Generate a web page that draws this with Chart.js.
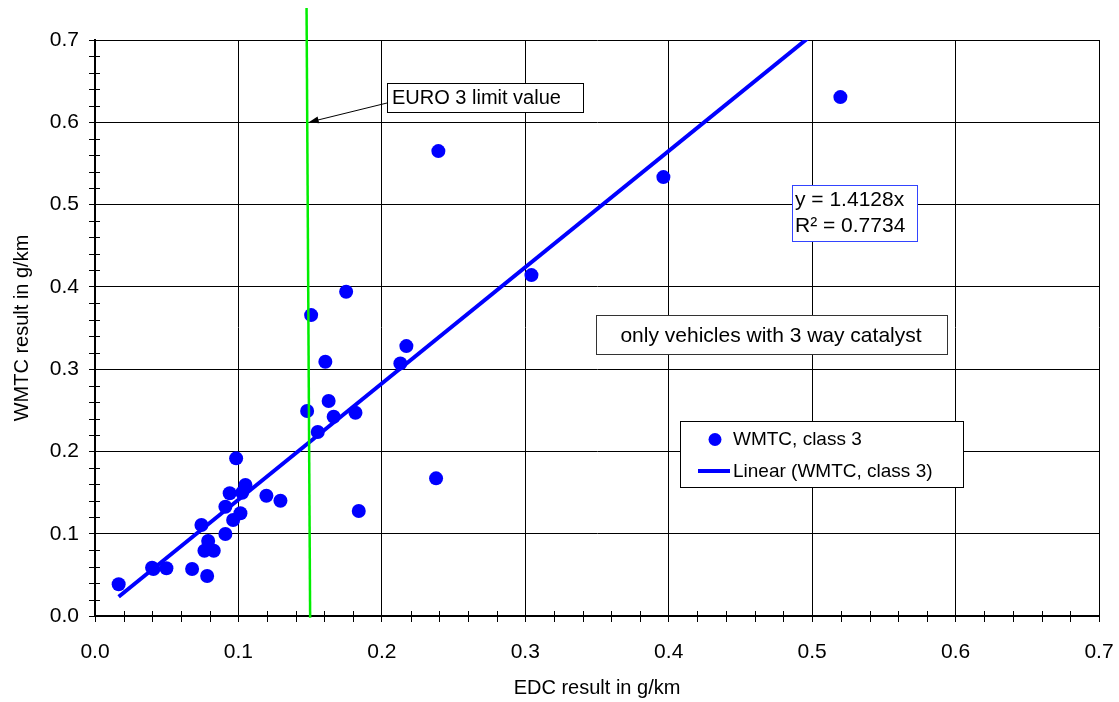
<!DOCTYPE html>
<html>
<head>
<meta charset="utf-8">
<title>WMTC vs EDC results</title>
<script src="https://cdn.jsdelivr.net/npm/chart.js@4.4.0/dist/chart.umd.min.js"></script>
<style>
  html, body { margin: 0; padding: 0; background: #ffffff; }
  canvas { display: block; }
</style>
</head>
<body>
<canvas id="chart" width="1119" height="702"></canvas>
<script>
// Measured results per vehicle (g/km): EDC test (x) and WMTC class 3 test (y)
const edcResults = [
  0.0165, 0.0398, 0.0407, 0.0498, 0.0677, 0.0782, 0.0742, 0.0789, 0.0763,
  0.0828, 0.0909, 0.0909, 0.0939, 0.0984, 0.0963, 0.1014, 0.1049, 0.1026,
  0.1195, 0.1293, 0.1479, 0.1751, 0.1507, 0.1606, 0.2171, 0.2129, 0.1629,
  0.1664, 0.1816, 0.1553, 0.1839, 0.2378, 0.2394, 0.3043, 0.3963, 0.5197
];
const wmtcResults = [
  0.0385, 0.0587, 0.0571, 0.0580, 0.0571, 0.0486, 0.1106, 0.0911, 0.0793,
  0.0793, 0.0996, 0.1328, 0.1491, 0.1916, 0.1166, 0.1248, 0.1592, 0.1498,
  0.1462, 0.1401, 0.2491, 0.3940, 0.3657, 0.3090, 0.3280, 0.3070, 0.2612,
  0.2422, 0.2470, 0.2236, 0.1276, 0.1673, 0.5650, 0.4143, 0.5334, 0.6306
];

// Linear trend through the origin and its fit quality
const trendSlope = 1.4128;
const trendR2 = 0.7734;

// EURO 3 limit marker (hand-drawn line, slightly tilted)
const limitLineX = [0.1475, 0.1500];
const limitLineY = [0.739, -0.002];

// Axis tick values, both axes
const tickValues = [0.0, 0.1, 0.2, 0.3, 0.4, 0.5, 0.6, 0.7];

const seriesName = 'WMTC, class 3';
const trendName = 'Linear (WMTC, class 3)';
const xTitle = 'EDC result in g/km';
const yTitle = 'WMTC result in g/km';
const limitText = 'EURO 3 limit value';
const scopeText = 'only vehicles with 3 way catalyst';

const FONT = '"Liberation Sans", Arial, sans-serif';
const BLUE = '#0000ff';

const points = edcResults.map((x, i) => ({ x, y: wmtcResults[i] }));
const xMinData = Math.min(...edcResults);
const xMaxData = Math.max(...edcResults);
const trendPoints = [
  { x: xMinData, y: trendSlope * xMinData },
  { x: xMaxData, y: trendSlope * xMaxData }
];
const limitPoints = limitLineX.map((x, i) => ({ x, y: limitLineY[i] }));

function crisp(v) { return Math.round(v) + 0.5; }

function textBox(ctx, x, y, w, h, stroke) {
  ctx.save();
  ctx.fillStyle = '#ffffff';
  ctx.fillRect(x, y, w, h);
  ctx.strokeStyle = stroke;
  ctx.lineWidth = 1;
  ctx.strokeRect(crisp(x), crisp(y), Math.round(w), Math.round(h));
  ctx.restore();
}

// Minor ticks every 0.02 crossing both axes
const minorTicks = {
  id: 'minorTicks',
  afterDraw(chart) {
    const { ctx, scales: { x, y } } = chart;
    ctx.save();
    ctx.strokeStyle = '#000000';
    ctx.lineWidth = 1;
    ctx.beginPath();
    for (let i = 0; i <= 35; i++) {
      if (i % 5 === 0) continue;
      const v = i * 0.02;
      const px = crisp(x.getPixelForValue(v));
      ctx.moveTo(px, y.bottom - 5);
      ctx.lineTo(px, y.bottom + 6);
      const py = crisp(y.getPixelForValue(v));
      ctx.moveTo(x.left - 6, py);
      ctx.lineTo(x.left + 5, py);
    }
    ctx.stroke();
    ctx.restore();
  }
};

// Text boxes, arrow and legend drawn inside the plot
const annotations = {
  id: 'annotations',
  afterDraw(chart) {
    const { ctx, scales: { x, y } } = chart;
    ctx.save();

    // EURO 3 label with arrow to the limit line
    textBox(ctx, 387, 83, 196, 29, '#000000');
    ctx.fillStyle = '#000000';
    ctx.font = '20px ' + FONT;
    ctx.textBaseline = 'middle';
    ctx.textAlign = 'left';
    ctx.fillText(limitText, 392, 98);

    const tipX = x.getPixelForValue(0.149);
    const tipY = y.getPixelForValue(0.6);
    const fromX = 387, fromY = 103;
    const ang = Math.atan2(tipY - fromY, tipX - fromX);
    ctx.strokeStyle = '#000000';
    ctx.lineWidth = 1;
    ctx.beginPath();
    ctx.moveTo(fromX, fromY);
    ctx.lineTo(tipX - 8 * Math.cos(ang), tipY - 8 * Math.sin(ang));
    ctx.stroke();
    ctx.beginPath();
    ctx.moveTo(tipX, tipY);
    ctx.lineTo(tipX - 10 * Math.cos(ang) + 3.5 * Math.sin(ang), tipY - 10 * Math.sin(ang) - 3.5 * Math.cos(ang));
    ctx.lineTo(tipX - 10 * Math.cos(ang) - 3.5 * Math.sin(ang), tipY - 10 * Math.sin(ang) + 3.5 * Math.cos(ang));
    ctx.closePath();
    ctx.fill();

    // Trend equation
    textBox(ctx, 792, 185, 125, 56, '#3344ff');
    ctx.fillStyle = '#000000';
    ctx.font = '21px ' + FONT;
    ctx.fillText('y = ' + trendSlope + 'x', 795, 200);
    ctx.fillText('R\u00b2 = ' + trendR2, 795, 226);

    // Scope note
    textBox(ctx, 596, 315, 351, 39, '#333333');
    ctx.textAlign = 'center';
    ctx.fillText(scopeText, 771, 336);

    // Legend
    textBox(ctx, 680, 421, 283, 66, '#000000');
    ctx.fillStyle = BLUE;
    ctx.beginPath();
    ctx.arc(715, 439.5, 6.5, 0, Math.PI * 2);
    ctx.fill();
    ctx.strokeStyle = BLUE;
    ctx.lineWidth = 4;
    ctx.beginPath();
    ctx.moveTo(698, 471);
    ctx.lineTo(730, 471);
    ctx.stroke();
    ctx.fillStyle = '#000000';
    ctx.textAlign = 'left';
    ctx.font = '19px ' + FONT;
    ctx.fillText(seriesName, 733, 440);
    ctx.fillText(trendName, 733, 472);

    ctx.restore();
  }
};

const axisCommon = (title, isX) => ({
  type: 'linear',
  min: 0,
  max: 0.7,
  afterBuildTicks(scale) { scale.ticks = tickValues.map(v => ({ value: v })); },
  afterFit(scale) {
    if (isX) {
      scale.height = 86;
      scale.paddingLeft = 0;
      scale.paddingRight = 0;
    } else {
      scale.width = 95;
      scale.paddingTop = 0;
      scale.paddingBottom = 0;
    }
  },
  ticks: {
    callback: v => Number(v).toFixed(1),
    font: { family: FONT, size: 21 },
    color: '#000000',
    padding: isX ? 18 : 10,
    autoSkip: false,
    maxRotation: 0
  },
  grid: {
    color: '#000000',
    lineWidth: 1,
    drawTicks: true,
    tickLength: 6,
    tickColor: '#000000'
  },
  border: { display: true, color: '#000000', width: 2 },
  title: {
    display: true,
    text: title,
    font: { family: FONT, size: 20 },
    color: '#000000',
    padding: isX ? { top: 0, bottom: 2 } : { top: 10, bottom: 0 }
  }
});

new Chart(document.getElementById('chart'), {
  type: 'scatter',
  data: {
    datasets: [
      {
        type: 'line',
        label: limitText,
        data: limitPoints,
        borderColor: '#00ee00',
        borderWidth: 2.5,
        pointRadius: 0,
        clip: false,
        order: 0
      },
      {
        label: seriesName,
        data: points,
        backgroundColor: BLUE,
        borderWidth: 0,
        pointRadius: 7,
        order: 1
      },
      {
        type: 'line',
        label: trendName,
        data: trendPoints,
        borderColor: BLUE,
        borderWidth: 4,
        pointRadius: 0,
        order: 2
      }
    ]
  },
  options: {
    responsive: false,
    animation: false,
    layout: { padding: { top: 40, right: 20, left: 0, bottom: 0 } },
    plugins: { legend: { display: false }, tooltip: { enabled: false } },
    scales: {
      x: axisCommon(xTitle, true),
      y: axisCommon(yTitle, false)
    }
  },
  plugins: [minorTicks, annotations]
});
</script>
</body>
</html>
